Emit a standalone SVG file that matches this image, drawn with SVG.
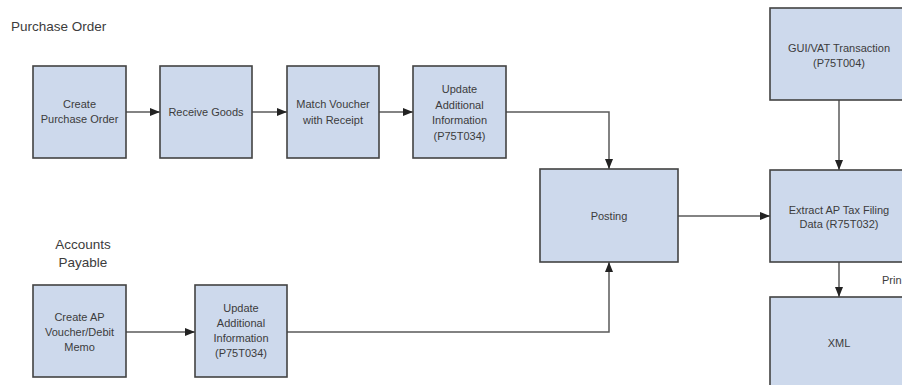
<svg xmlns="http://www.w3.org/2000/svg" width="902" height="385" viewBox="0 0 902 385">
<style>
.box{fill:#cdd9ec;stroke:#434343;stroke-width:1.6}
.t{font-family:"Liberation Sans",Arial,sans-serif;font-size:11px;fill:#3c3c3c;text-anchor:middle}
.h{font-family:"Liberation Sans",Arial,sans-serif;font-size:13.5px;fill:#3c3c3c}
.c{fill:none;stroke:#5a5a5a;stroke-width:1.5}
</style>
<defs>
<marker id="arr" markerUnits="userSpaceOnUse" markerWidth="10" markerHeight="10" viewBox="0 0 10 10" refX="10" refY="5" orient="auto">
<path d="M0,1 L10,5 L0,9 Z" fill="#222"/>
</marker>
</defs>
<text class="h" x="11" y="31">Purchase Order</text>
<text class="h" x="83" y="249" text-anchor="middle">Accounts</text>
<text class="h" x="83" y="267" text-anchor="middle">Payable</text>
<g id="connectors">
<path class="c" d="M126,112 H160" marker-end="url(#arr)"/>
<path class="c" d="M252,112 H287" marker-end="url(#arr)"/>
<path class="c" d="M379,112 H413" marker-end="url(#arr)"/>
<path class="c" d="M506,112 H609 V169" marker-end="url(#arr)"/>
<path class="c" d="M126,332 H195" marker-end="url(#arr)"/>
<path class="c" d="M287,332 H609 V262" marker-end="url(#arr)"/>
<path class="c" d="M678,216 H770" marker-end="url(#arr)"/>
<path class="c" d="M839,100 V170" marker-end="url(#arr)"/>
<path class="c" d="M839,262 V297" marker-end="url(#arr)"/>
<text class="t" x="882" y="284" style="text-anchor:start">Prin</text>
</g>
<g id="create-po">
<rect class="box" x="33" y="66" width="93" height="92"/>
<text class="t" x="79.5" y="108">Create</text>
<text class="t" x="79.5" y="123">Purchase Order</text>
</g>
<g id="receive-goods">
<rect class="box" x="160" y="66" width="92" height="92"/>
<text class="t" x="206" y="116">Receive Goods</text>
</g>
<g id="match-voucher">
<rect class="box" x="287" y="66" width="92" height="92"/>
<text class="t" x="333" y="108">Match Voucher</text>
<text class="t" x="333" y="124">with Receipt</text>
</g>
<g id="update-po">
<rect class="box" x="413" y="66" width="93" height="92"/>
<text class="t" x="459.5" y="93">Update</text>
<text class="t" x="459.5" y="108.5">Additional</text>
<text class="t" x="459.5" y="124">Information</text>
<text class="t" x="459.5" y="139.5">(P75T034)</text>
</g>
<g id="posting">
<rect class="box" x="540" y="169" width="138" height="93"/>
<text class="t" x="609" y="220">Posting</text>
</g>
<g id="gui-vat">
<rect class="box" x="770" y="8" width="138" height="92"/>
<text class="t" x="839" y="52">GUI/VAT Transaction</text>
<text class="t" x="839" y="67">(P75T004)</text>
</g>
<g id="extract">
<rect class="box" x="770" y="170" width="138" height="92"/>
<text class="t" x="839" y="214">Extract AP Tax Filing</text>
<text class="t" x="839" y="228">Data (R75T032)</text>
</g>
<g id="xml">
<rect class="box" x="770" y="297" width="138" height="100"/>
<text class="t" x="839" y="347">XML</text>
</g>
<g id="create-ap">
<rect class="box" x="33" y="285" width="93" height="92"/>
<text class="t" x="79.5" y="321">Create AP</text>
<text class="t" x="79.5" y="336">Voucher/Debit</text>
<text class="t" x="79.5" y="351">Memo</text>
</g>
<g id="update-ap">
<rect class="box" x="195" y="285" width="92" height="92"/>
<text class="t" x="241" y="312">Update</text>
<text class="t" x="241" y="327">Additional</text>
<text class="t" x="241" y="342">Information</text>
<text class="t" x="241" y="357">(P75T034)</text>
</g>
</svg>
